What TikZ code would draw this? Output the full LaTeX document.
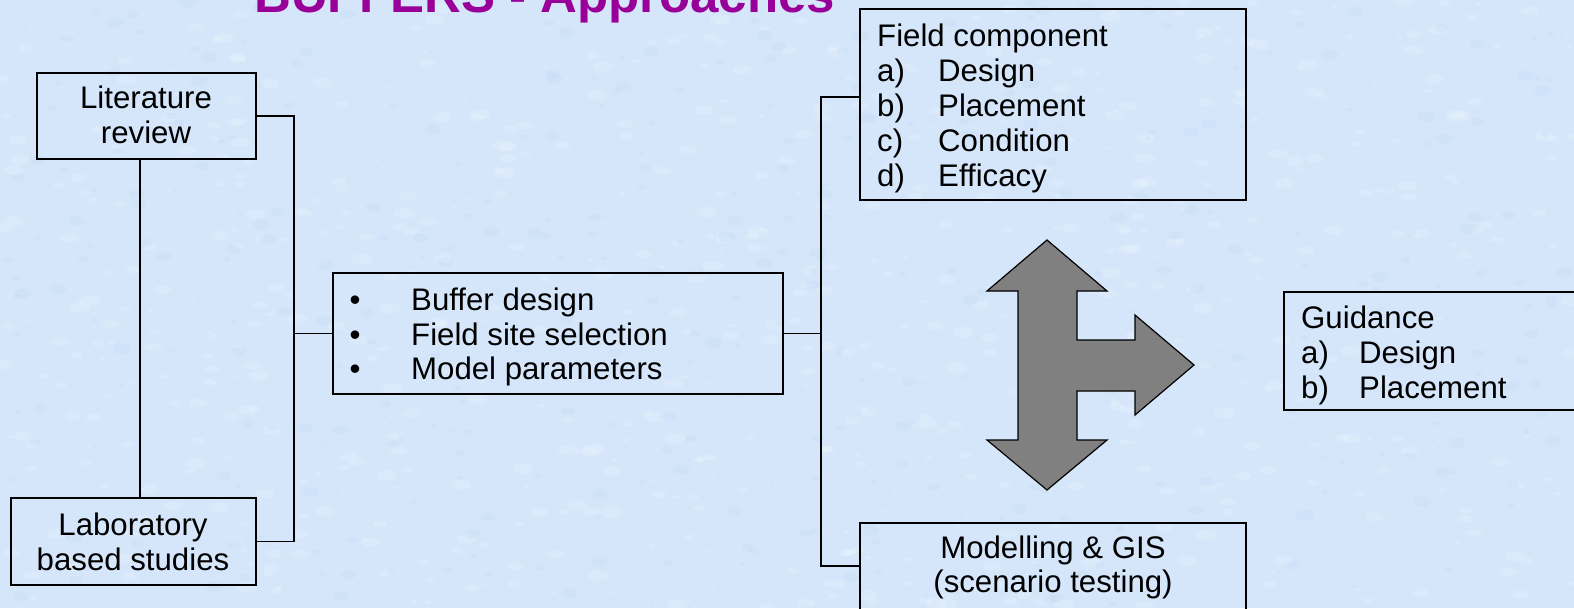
\documentclass[tikz,border=0pt]{standalone}
\usepackage{fontspec}
\setmainfont{Liberation Sans}
\definecolor{bg}{RGB}{213,230,250}
\definecolor{bgdark}{RGB}{195,218,246}
\definecolor{ttl}{RGB}{153,0,153}
\definecolor{arrowgray}{RGB}{128,128,128}
\tikzset{
  boxnode/.style={draw=black, line width=1.9pt, rectangle, inner sep=0pt},
  conn/.style={draw=black, line width=1.9pt},
  txt/.style={inner sep=0pt, font=\fontsize{31.2}{35}\selectfont},
  bigarrow/.style={draw=black, line width=1.2pt, fill=arrowgray, line join=miter},
}
\begin{document}
\begin{tikzpicture}[x=1pt,y=-1pt]
\useasboundingbox (0,0) rectangle (1574,608);
\clip (0,0) rectangle (1574,608);
\fill[bg] (0,0) rectangle (1574,608);
\pgfmathsetseed{7}
\foreach \i in {1,...,700} {
  \pgfmathsetmacro\xx{rnd*1574}
  \pgfmathsetmacro\yy{rnd*608}
  \pgfmathsetmacro\rr{2+rnd*9}
  \fill[white, opacity=0.16] (\xx,\yy) ellipse [x radius=\rr pt, y radius=0.5*\rr pt];
}
\foreach \i in {1,...,400} {
  \pgfmathsetmacro\xx{rnd*1574}
  \pgfmathsetmacro\yy{rnd*608}
  \pgfmathsetmacro\rr{2+rnd*7}
  \fill[bgdark, opacity=0.3] (\xx,\yy) ellipse [x radius=\rr pt, y radius=0.6*\rr pt];
}

% title
\node[inner sep=0pt, anchor=base west, text=ttl, font=\fontsize{51}{60}\selectfont\bfseries] (title) at (254,12.5) {BUFFERS - Approaches};

% boxes
\node[boxnode, minimum width=219pt, minimum height=86pt] (lit) at (146.5,116) {};
\node[boxnode, minimum width=245pt, minimum height=87pt] (lab) at (133.5,541.5) {};
\node[boxnode, minimum width=450pt, minimum height=121pt] (mid) at (558,333.5) {};
\node[boxnode, minimum width=386pt, minimum height=191pt] (field) at (1053,104.5) {};
\node[boxnode, minimum width=386pt, minimum height=120pt] (model) at (1053,583) {};
\node[boxnode, minimum width=316pt, minimum height=118pt] (guid) at (1442,351) {};

% texts
\node[txt, anchor=base] (litA) at (146,108) {Literature};
\node[txt, anchor=base] (litB) at (146,143) {review};
\node[txt, anchor=base] (labA) at (133,535) {Laboratory};
\node[txt, anchor=base] (labB) at (133,570) {based studies};

\node[txt, anchor=base] (b1) at (355,310) {•};
\node[txt, anchor=base] (b2) at (355,345) {•};
\node[txt, anchor=base] (b3) at (355,379) {•};
\node[txt, anchor=base west] (m1) at (411,310) {Buffer design};
\node[txt, anchor=base west] (m2) at (411,345) {Field site selection};
\node[txt, anchor=base west] (m3) at (411,379) {Model parameters};

\node[txt, anchor=base west] (f0) at (877,46) {Field component};
\node[txt, anchor=base west] (fa) at (877,81) {a)};
\node[txt, anchor=base west] (fb) at (877,116) {b)};
\node[txt, anchor=base west] (fc) at (877,151) {c)};
\node[txt, anchor=base west] (fd) at (877,186) {d)};
\node[txt, anchor=base west] (fa2) at (938,81) {Design};
\node[txt, anchor=base west] (fb2) at (938,116) {Placement};
\node[txt, anchor=base west] (fc2) at (938,151) {Condition};
\node[txt, anchor=base west] (fd2) at (938,186) {Efficacy};

\node[txt, anchor=base] (mo1) at (1053,558) {Modelling \& GIS};
\node[txt, anchor=base] (mo2) at (1053,592) {(scenario testing)};

\node[txt, anchor=base west] (g0) at (1301,328) {Guidance};
\node[txt, anchor=base west] (ga) at (1301,363) {a)};
\node[txt, anchor=base west] (gb) at (1301,398) {b)};
\node[txt, anchor=base west] (ga2) at (1359,363) {Design};
\node[txt, anchor=base west] (gb2) at (1359,398) {Placement};

% connectors
\coordinate (vx) at (140,0);
\coordinate (j1) at (294,333.5);
\coordinate (j2) at (821,333.5);
\coordinate (fy) at (0,97);
\coordinate (my) at (0,566);
\draw[conn] (lit.south -| vx) -- (lab.north -| vx);
\draw[conn] (lit.east) -| (j1) |- (lab.east);
\draw[conn] (j1) -- (mid.west);
\draw[conn] (mid.east) -- (j2);
\draw[conn] (field.west |- fy) -| (j2) |- (model.west |- my);

% three-way arrow
\draw[bigarrow] (1047,240) -- (1107,291) -- (1077,291) -- (1077,340) -- (1135,340)
  -- (1135,315) -- (1194,365) -- (1135,415) -- (1135,391) -- (1077,391)
  -- (1077,440) -- (1107,440) -- (1047,490) -- (987,440) -- (1018,440)
  -- (1018,291) -- (987,291) -- cycle;
\end{tikzpicture}
\end{document}
